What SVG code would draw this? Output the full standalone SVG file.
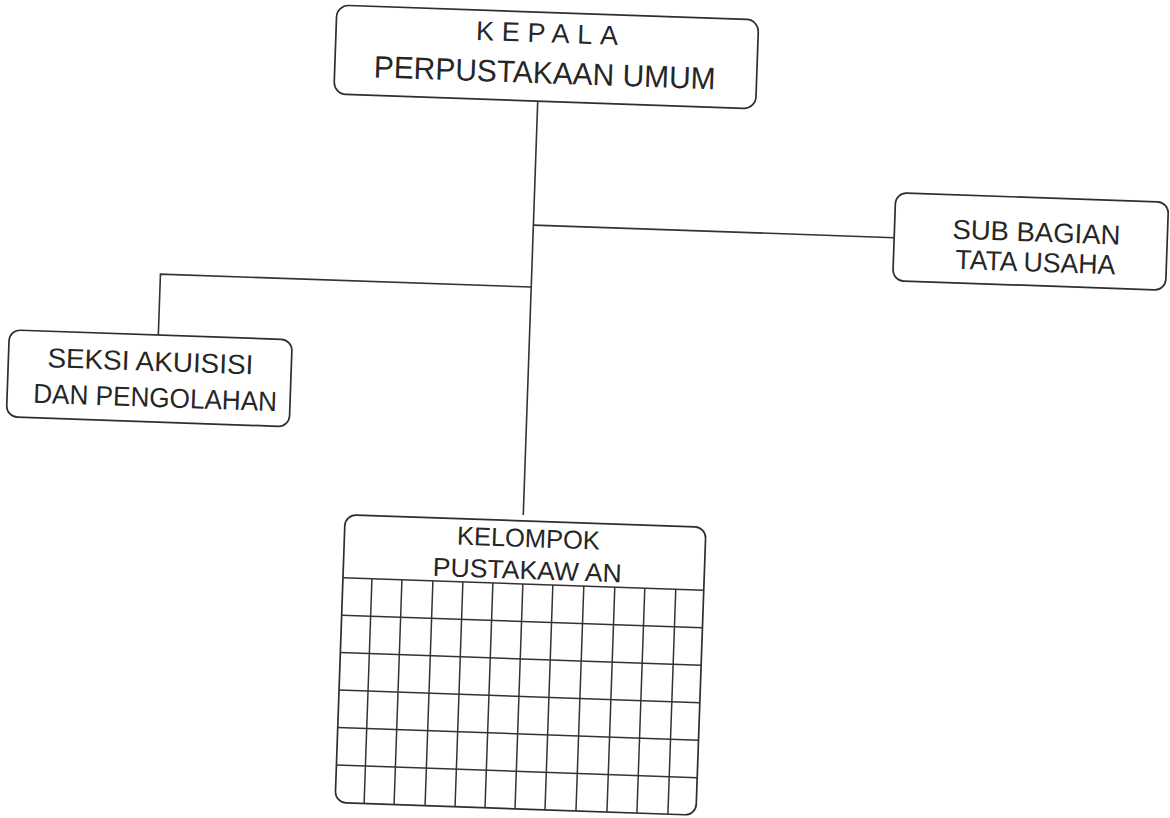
<svg xmlns="http://www.w3.org/2000/svg" width="1170" height="818" viewBox="0 0 1170 818">
<style>
.box{fill:none;stroke:#2e2e2e;stroke-width:1.7}
.ln{fill:none;stroke:#333;stroke-width:1.6}
.gr{fill:none;stroke:#333;stroke-width:1.5}
.t{font-family:"Liberation Sans",Arial,sans-serif;fill:#262626;text-anchor:middle}
</style>
<rect width="1170" height="818" fill="#ffffff"/>
<g transform="rotate(2 585 409)">
<g id="connectors">
<path class="ln" d="M527 103 V517"/>
<path class="ln" d="M527 227 H888"/>
<path class="ln" d="M527 289 H156 V350"/>
</g>
<g id="kepala">
<rect class="box" x="323" y="14" width="422" height="89" rx="12"/>
<text class="t" x="534" y="44" font-size="27" textLength="142" lengthAdjust="spacing">KEPALA</text>
<text class="t" x="533" y="85" font-size="31" textLength="342" lengthAdjust="spacingAndGlyphs">PERPUSTAKAAN UMUM</text>
</g>
<g id="subbagian">
<rect class="box" x="888" y="182" width="273" height="88" rx="11"/>
<text class="t" x="1030" y="226" font-size="27.5" textLength="168" lengthAdjust="spacingAndGlyphs">SUB BAGIAN</text>
<text class="t" x="1030" y="256" font-size="27.5" textLength="160" lengthAdjust="spacingAndGlyphs">TATA USAHA</text>
</g>
<g id="seksi">
<rect class="box" x="7" y="350" width="283" height="87" rx="11"/>
<text class="t" x="149" y="386" font-size="27.5" textLength="206" lengthAdjust="spacingAndGlyphs">SEKSI AKUISISI</text>
<text class="t" x="155" y="422" font-size="27.5" textLength="244" lengthAdjust="spacingAndGlyphs">DAN PENGOLAHAN</text>
</g>
<g id="kelompok">
<rect class="box" x="349" y="523" width="361" height="288" rx="11"/>
<text class="t" x="533" y="549" font-size="26" textLength="143" lengthAdjust="spacingAndGlyphs">KELOMPOK</text>
<text class="t" x="533" y="581" font-size="26" textLength="189" lengthAdjust="spacingAndGlyphs">PUSTAKAW AN</text>
<path class="gr" d="M349 586 H710 M349 623.5 H710 M349 661 H710 M349 698.5 H710 M349 736 H710 M349 773.5 H710"/>
<path class="gr" d="M378 586 V811 M408 586 V811 M439 586 V811 M469 586 V811 M499 586 V811 M529 586 V811 M559 586 V811 M590 586 V811 M621 586 V811 M651 586 V811 M682 586 V811"/>
</g>
</g>
</svg>
